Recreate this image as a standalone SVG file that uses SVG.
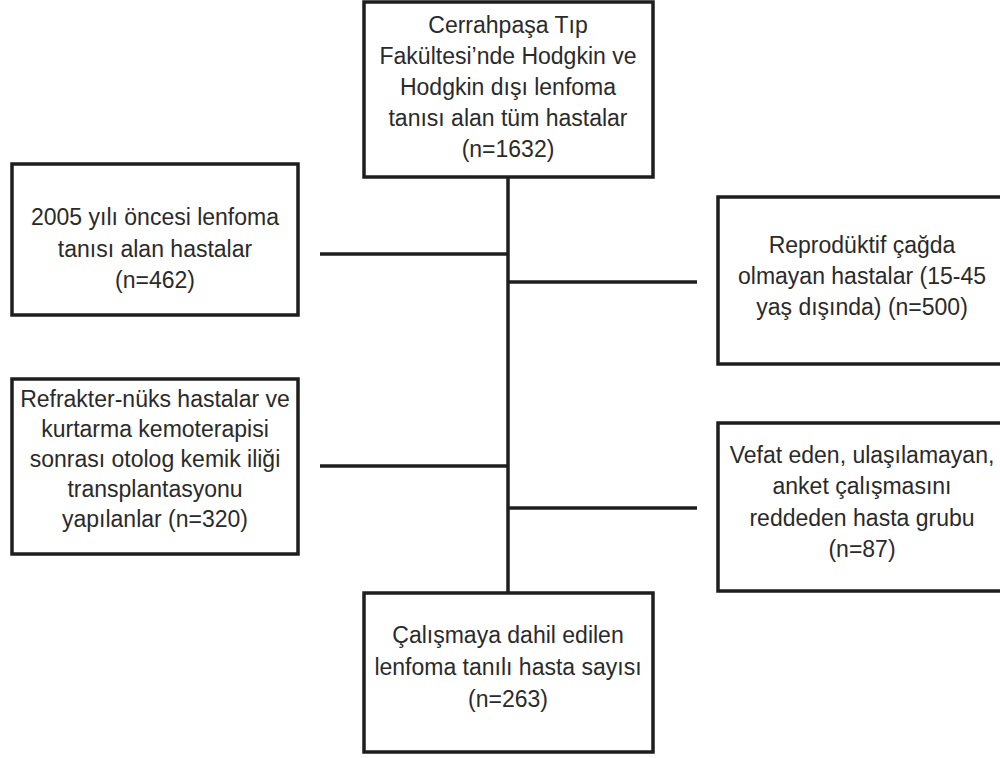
<svg xmlns="http://www.w3.org/2000/svg" width="1000" height="758" viewBox="0 0 1000 758">
<style>
.box{fill:#fff;stroke:#1e1e1e;stroke-width:3.5}
.ln{stroke:#1e1e1e;stroke-width:3.5;fill:none}
text{font-family:"Liberation Sans",Arial,sans-serif;font-size:23px;fill:#2a2a2a;text-anchor:middle}
</style>
<rect width="1000" height="758" fill="#fff"/>
<g id="connectors">
<line class="ln" x1="508" y1="177" x2="508" y2="593"/>
<line class="ln" x1="320" y1="254" x2="508" y2="254"/>
<line class="ln" x1="508" y1="282" x2="697" y2="282"/>
<line class="ln" x1="320" y1="466" x2="508" y2="466"/>
<line class="ln" x1="508" y1="508" x2="697" y2="508"/>
</g>
<g id="top">
<rect class="box" x="364" y="2" width="289" height="175"/>
<text x="508" y="33">Cerrahpaşa Tıp</text>
<text x="508" y="64">Fakültesi’nde Hodgkin ve</text>
<text x="508" y="95">Hodgkin dışı lenfoma</text>
<text x="508" y="126">tanısı alan tüm hastalar</text>
<text x="508" y="157">(n=1632)</text>
</g>
<g id="left1">
<rect class="box" x="12" y="164" width="286" height="151"/>
<text x="155" y="225">2005 yılı öncesi lenfoma</text>
<text x="155" y="257">tanısı alan hastalar</text>
<text x="155" y="288">(n=462)</text>
</g>
<g id="right1">
<rect class="box" x="718" y="197" width="300" height="167"/>
<text x="862" y="253">Reprodüktif çağda</text>
<text x="862" y="284">olmayan hastalar (15-45</text>
<text x="862" y="315">yaş dışında) (n=500)</text>
</g>
<g id="left2">
<rect class="box" x="12" y="379" width="286" height="175"/>
<text x="155" y="407">Refrakter-nüks hastalar ve</text>
<text x="155" y="437">kurtarma kemoterapisi</text>
<text x="155" y="467">sonrası otolog kemik iliği</text>
<text x="155" y="497">transplantasyonu</text>
<text x="155" y="527">yapılanlar (n=320)</text>
</g>
<g id="right2">
<rect class="box" x="718" y="423" width="300" height="168"/>
<text x="862" y="463">Vefat eden, ulaşılamayan,</text>
<text x="862" y="494">anket çalışmasını</text>
<text x="862" y="526">reddeden hasta grubu</text>
<text x="862" y="557">(n=87)</text>
</g>
<g id="bottom">
<rect class="box" x="364" y="593" width="289" height="159"/>
<text x="508" y="643">Çalışmaya dahil edilen</text>
<text x="508" y="675">lenfoma tanılı hasta sayısı</text>
<text x="508" y="707">(n=263)</text>
</g>
</svg>
